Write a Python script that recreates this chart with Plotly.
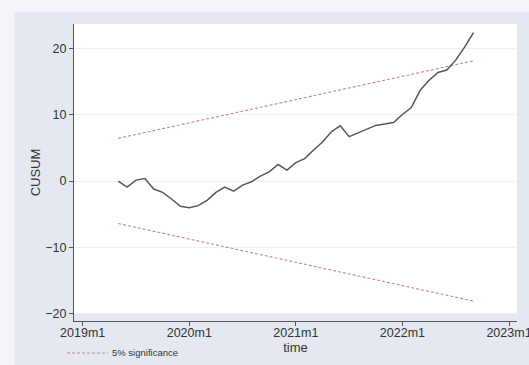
import plotly.graph_objects as go

# Monthly CUSUM statistic, 2019m5 - 2022m9
months = [
    "2019m5", "2019m6", "2019m7", "2019m8", "2019m9", "2019m10", "2019m11", "2019m12",
    "2020m1", "2020m2", "2020m3", "2020m4", "2020m5", "2020m6", "2020m7", "2020m8",
    "2020m9", "2020m10", "2020m11", "2020m12", "2021m1", "2021m2", "2021m3", "2021m4",
    "2021m5", "2021m6", "2021m7", "2021m8", "2021m9", "2021m10", "2021m11", "2021m12",
    "2022m1", "2022m2", "2022m3", "2022m4", "2022m5", "2022m6", "2022m7", "2022m8",
    "2022m9",
]
cusum = [
    0.0, -0.9, 0.15, 0.4, -1.2, -1.7, -2.7, -3.8,
    -4.0, -3.7, -2.9, -1.7, -0.9, -1.5, -0.6, -0.1,
    0.75, 1.4, 2.5, 1.65, 2.8, 3.4, 4.7, 5.9,
    7.45, 8.35, 6.7, 7.3, 7.85, 8.4, 8.6, 8.85,
    10.05, 11.1, 13.7, 15.2, 16.4, 16.75, 18.25, 20.2,
    22.4,
]
# 5% significance bounds at the first and last observation
bound_months = ["2019m5", "2022m9"]
upper_bound = [6.45, 18.15]
lower_bound = [-6.4, -18.1]

tick_labels = ["2019m1", "2020m1", "2021m1", "2022m1", "2023m1"]
y_ticks = [-20, -10, 0, 10, 20]
legend_label = "5% significance"


def month_index(label):
    year, mon = label.split("m")
    return (int(year) - 2019) * 12 + int(mon) - 1


x = [month_index(m) for m in months]
xb = [month_index(m) for m in bound_months]
xt = [month_index(t) for t in tick_labels]

BG = "#e4e9f1"
EDGE = "#f3f5f8"
SIG = "rgb(196,136,136)"
FONT = "Liberation Sans, Arial, sans-serif"
DASH = "3px,2px"

fig = go.Figure()
for bound in (upper_bound, lower_bound):
    fig.add_trace(go.Scatter(
        x=xb, y=bound, mode="lines", name=legend_label,
        line=dict(color=SIG, width=1.1, dash=DASH), showlegend=False,
    ))
fig.add_trace(go.Scatter(
    x=x, y=cusum, mode="lines", name="CUSUM",
    line=dict(color="#55575c", width=1.5), showlegend=False,
))

# pale strips along the top and left edge of the page
fig.add_shape(type="rect", xref="paper", yref="paper",
              x0=-0.2, x1=1.1, y0=1.0404, y1=1.2,
              fillcolor=EDGE, line_width=0, layer="below")
fig.add_shape(type="rect", xref="paper", yref="paper",
              x0=-0.2, x1=-0.1333, y0=-0.2, y1=1.2,
              fillcolor=EDGE, line_width=0, layer="below")
# gap between the plot region and the x axis
fig.add_shape(type="rect", xref="paper", yref="y",
              x0=0, x1=1, y0=-21.1, y1=-19.9,
              fillcolor=BG, line_width=0, layer="below")

# legend key below the axis: dashed sample plus label
fig.add_shape(type="line", xref="paper", yref="paper",
              x0=-0.0158, x1=0.0768, y0=-0.1077, y1=-0.1077,
              line=dict(color=SIG, width=1.1, dash=DASH))
fig.add_annotation(xref="paper", yref="paper", x=0.081, y=-0.1077,
                   xanchor="left", yanchor="middle", showarrow=False,
                   text=legend_label, font=dict(size=9.5, color="#333333"))

fig.update_layout(
    width=529, height=365,
    margin=dict(l=74, r=12, t=24, b=44, autoexpand=False),
    paper_bgcolor=BG,
    plot_bgcolor="white",
    font=dict(family=FONT, color="#333333", size=12.5),
    showlegend=False,
    xaxis=dict(
        range=[-0.98, 48.9], tickmode="array", tickvals=xt, ticktext=tick_labels,
        showgrid=False, zeroline=False, showline=True, linecolor="#555",
        linewidth=1, ticks="outside", ticklen=4, tickcolor="#555",
        ticklabelstandoff=-4, ticklabeloverflow="allow", automargin=False,
        title=dict(text="time", font=dict(size=13), standoff=0),
    ),
    yaxis=dict(
        range=[-21.1, 23.7], tickmode="array", tickvals=y_ticks,
        showgrid=True, gridcolor="#eef0f4", gridwidth=1, zeroline=False,
        showline=True, linecolor="#555", linewidth=1, automargin=False,
        ticks="outside", ticklen=4, tickcolor="#555",
        title=dict(text="CUSUM", font=dict(size=13), standoff=1),
    ),
)

fig.write_html("out.html")
